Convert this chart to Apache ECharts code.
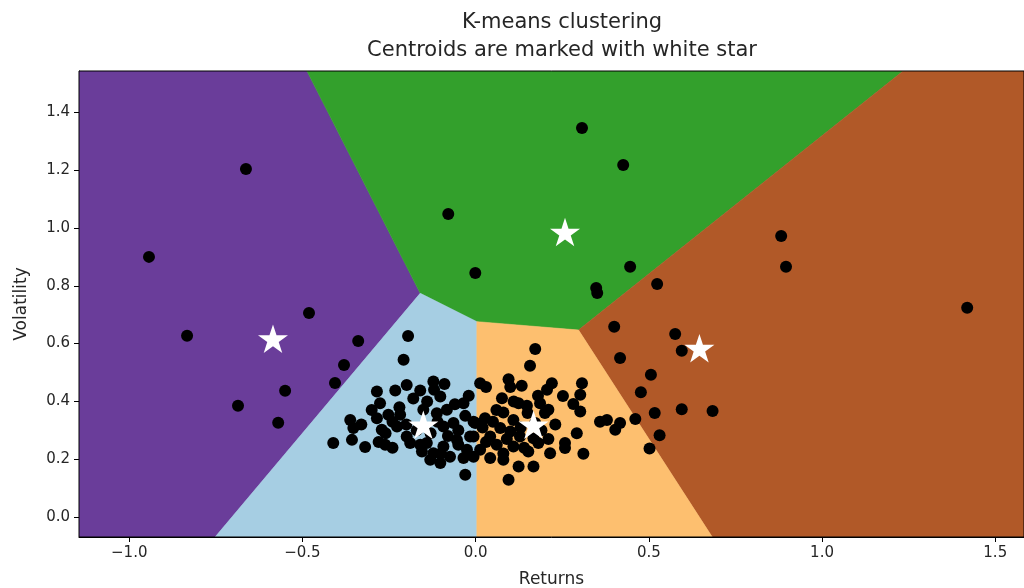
<!DOCTYPE html>
<html>
<head>
<meta charset="utf-8">
<script src="https://cdn.jsdelivr.net/npm/echarts@6/dist/echarts.min.js"></script>
<style>html,body{margin:0;padding:0;background:#fff;}#chart{width:1024px;height:588px;}</style>
</head>
<body>
<div id="chart"></div>
<script>
// Axis ranges and ticks
const xRange = [-1.145, 1.583];
const yRange = [-0.069, 1.543];
const xTicks = [-1.0, -0.5, 0.0, 0.5, 1.0, 1.5];
const yTicks = [0.0, 0.2, 0.4, 0.6, 0.8, 1.0, 1.2, 1.4];

// Cluster regions (decision areas), vertices in data coordinates
const regionPurple = [[-1.145, 1.543], [-0.487, 1.543], [-0.160, 0.774], [-0.752, -0.069], [-1.145, -0.069]];
const regionGreen = [[-0.487, 1.543], [1.234, 1.543], [0.297, 0.647], [0.0035, 0.676], [-0.160, 0.774]];
const regionBrown = [[1.234, 1.543], [1.583, 1.543], [1.583, -0.069], [0.683, -0.069], [0.297, 0.647]];
const regionLightBlue = [[-0.160, 0.774], [0.0035, 0.676], [0.0035, -0.069], [-0.752, -0.069]];
const regionOrange = [[0.0035, 0.676], [0.297, 0.647], [0.683, -0.069], [0.0035, -0.069]];

// Data points
const returns = [
 -0.943,-0.663,-0.833,-0.481,-0.686,-0.570,-0.550,-0.380,-0.339,-0.406,
 0.307,0.426,-0.079,-0.001,0.446,0.348,0.351,0.524,
 0.882,0.896,1.419,0.400,0.576,0.595,0.417,0.506,0.477,0.517,0.595,0.684,0.461,0.531,0.502,
 0.307,0.252,0.302,0.282,0.302,0.359,0.379,0.417,0.403,0.292,0.258,0.311,0.172,0.157,0.220,0.206,0.186,0.210,0.258,0.215,0.181,
 0.013,0.095,0.133,0.076,0.124,0.148,0.080,0.027,0.109,0.071,0.100,0.042,0.128,0.167,0.061,0.109,0.013,0.042,0.080,0.124,0.167,0.095,0.152,0.172,
 -0.195,-0.208,-0.285,-0.232,-0.199,-0.160,-0.122,-0.276,-0.102,-0.035,-0.362,-0.353,-0.411,-0.357,-0.319,-0.285,-0.252,-0.218,-0.271,-0.227,
 -0.199,-0.261,-0.189,-0.151,-0.112,-0.083,-0.093,-0.064,-0.006,-0.001,-0.006,-0.006,-0.141,-0.093,-0.054,-0.016,-0.122,-0.074,-0.131,-0.102,
 -0.035,-0.030,-0.025,-0.155,
 -0.30,-0.24,-0.20,-0.17,-0.13,-0.11,-0.08,-0.05,-0.03,-0.06,-0.14,-0.18,-0.22,-0.26,-0.16,-0.10,-0.05,0.02,0.05,0.03,
 0.09,0.13,0.15,0.11,0.06,0.19,0.21,0.23,0.18,0.08,0.14,-0.02,-0.12,-0.09,0.03,0.10,0.20,-0.28,-0.24,-0.33
];
const volatility = [
 0.900,1.204,0.627,0.706,0.385,0.326,0.437,0.526,0.609,0.464,
 1.346,1.218,1.048,0.844,0.866,0.792,0.775,0.806,
 0.972,0.866,0.724,0.658,0.633,0.575,0.550,0.492,0.432,0.360,0.373,0.367,0.339,0.283,0.237,
 0.463,0.419,0.423,0.391,0.365,0.330,0.336,0.325,0.302,0.290,0.256,0.219,0.581,0.523,0.463,0.440,0.394,0.371,0.239,0.221,0.256,
 0.463,0.477,0.454,0.411,0.394,0.385,0.362,0.342,0.336,0.308,0.296,0.279,0.279,0.273,0.250,0.244,0.233,0.204,0.198,0.175,0.175,0.129,0.227,0.325,
 0.626,0.544,0.434,0.438,0.457,0.438,0.469,0.394,0.417,0.394,0.336,0.308,0.256,0.267,0.242,0.342,0.354,0.354,0.302,0.313,
 0.279,0.250,0.256,0.371,0.359,0.371,0.313,0.325,0.330,0.325,0.279,0.209,0.256,0.244,0.267,0.279,0.221,0.209,0.198,0.187,
 0.204,0.146,0.233,0.227,
 0.37,0.33,0.32,0.30,0.29,0.33,0.28,0.30,0.35,0.39,0.40,0.41,0.38,0.29,0.25,0.22,0.25,0.31,0.33,0.26,
 0.27,0.31,0.36,0.40,0.37,0.30,0.27,0.32,0.42,0.22,0.24,0.42,0.44,0.46,0.45,0.45,0.36,0.26,0.24,0.32
];

// Centroids (white stars)
const centroidReturns = [-0.585, 0.258, 0.646, -0.151, 0.167];
const centroidVolatility = [0.617, 0.986, 0.584, 0.319, 0.319];

const regions = [
  {poly: regionPurple, color: '#6a3d9a'},
  {poly: regionGreen, color: '#33a02c'},
  {poly: regionBrown, color: '#b15928'},
  {poly: regionLightBlue, color: '#a6cee3'},
  {poly: regionOrange, color: '#fdbf6f'}
];

const points = returns.map((r, i) => [r, volatility[i]]);
const centroids = centroidReturns.map((r, i) => [r, centroidVolatility[i]]);

const fmt = v => (Math.round(v * 10) / 10).toFixed(1).replace('-', '\u2212');
const starPath = 'path://M0,-1L0.2245,-0.309L0.951,-0.309L0.363,0.118L0.588,0.809L0,0.382L-0.588,0.809L-0.363,0.118L-0.951,-0.309L-0.2245,-0.309Z';

const chart = echarts.init(document.getElementById('chart'), null, {renderer: 'canvas'});
const textColor = '#262626';
chart.setOption({
  animation: false,
  backgroundColor: '#fff',
  title: {
    text: 'K-means clustering\nCentroids are marked with white star',
    left: 557, top: 4, textAlign: 'center',
    textStyle: {fontFamily: 'DejaVu Sans', fontSize: 21, fontWeight: 'normal', color: textColor, lineHeight: 28}
  },
  grid: {left: 79, right: 0, top: 71, bottom: 51, outerBoundsMode: 'none', containLabel: false, show: true, borderColor: '#000', borderWidth: 1, backgroundColor: 'transparent', z: 10},
  xAxis: {
    type: 'value', min: xRange[0], max: xRange[1],
    name: 'Returns', nameLocation: 'middle', nameGap: 34,
    nameTextStyle: {fontFamily: 'DejaVu Sans', fontSize: 17, color: textColor},
    axisLine: {show: true, onZero: false, lineStyle: {color: '#000', width: 1}},
    axisTick: {show: true, length: 5, lineStyle: {color: '#000'}, customValues: xTicks},
    axisLabel: {fontFamily: 'DejaVu Sans', fontSize: 15, color: textColor, margin: 9, customValues: xTicks, formatter: fmt},
    splitLine: {show: false}
  },
  yAxis: {
    type: 'value', min: yRange[0], max: yRange[1],
    name: 'Volatility', nameLocation: 'middle', nameGap: 49,
    nameTextStyle: {fontFamily: 'DejaVu Sans', fontSize: 17, color: textColor},
    axisLine: {show: true, onZero: false, lineStyle: {color: '#000', width: 1}},
    axisTick: {show: true, length: 5, lineStyle: {color: '#000'}, customValues: yTicks},
    axisLabel: {fontFamily: 'DejaVu Sans', fontSize: 15, color: textColor, margin: 9, customValues: yTicks, formatter: fmt},
    splitLine: {show: false}
  },
  series: [
    {
      type: 'custom',
      data: regions.map((r, i) => [i]),
      clip: true,
      silent: true,
      z: 1,
      renderItem: function (params, api) {
        const reg = regions[api.value(0)];
        const pts = reg.poly.map(p => api.coord(p));
        return {type: 'polygon', shape: {points: pts}, style: {fill: reg.color, stroke: reg.color, lineWidth: 0.6}};
      }
    },
    {
      type: 'scatter', data: points, symbol: 'circle', symbolSize: 12,
      itemStyle: {color: '#000', opacity: 1}, z: 3, silent: true
    },
    {
      type: 'scatter', data: centroids, symbol: starPath, symbolKeepAspect: true, symbolSize: 30,
      itemStyle: {color: '#fff', opacity: 1}, z: 4, silent: true
    }
  ]
});
</script>
</body>
</html>
